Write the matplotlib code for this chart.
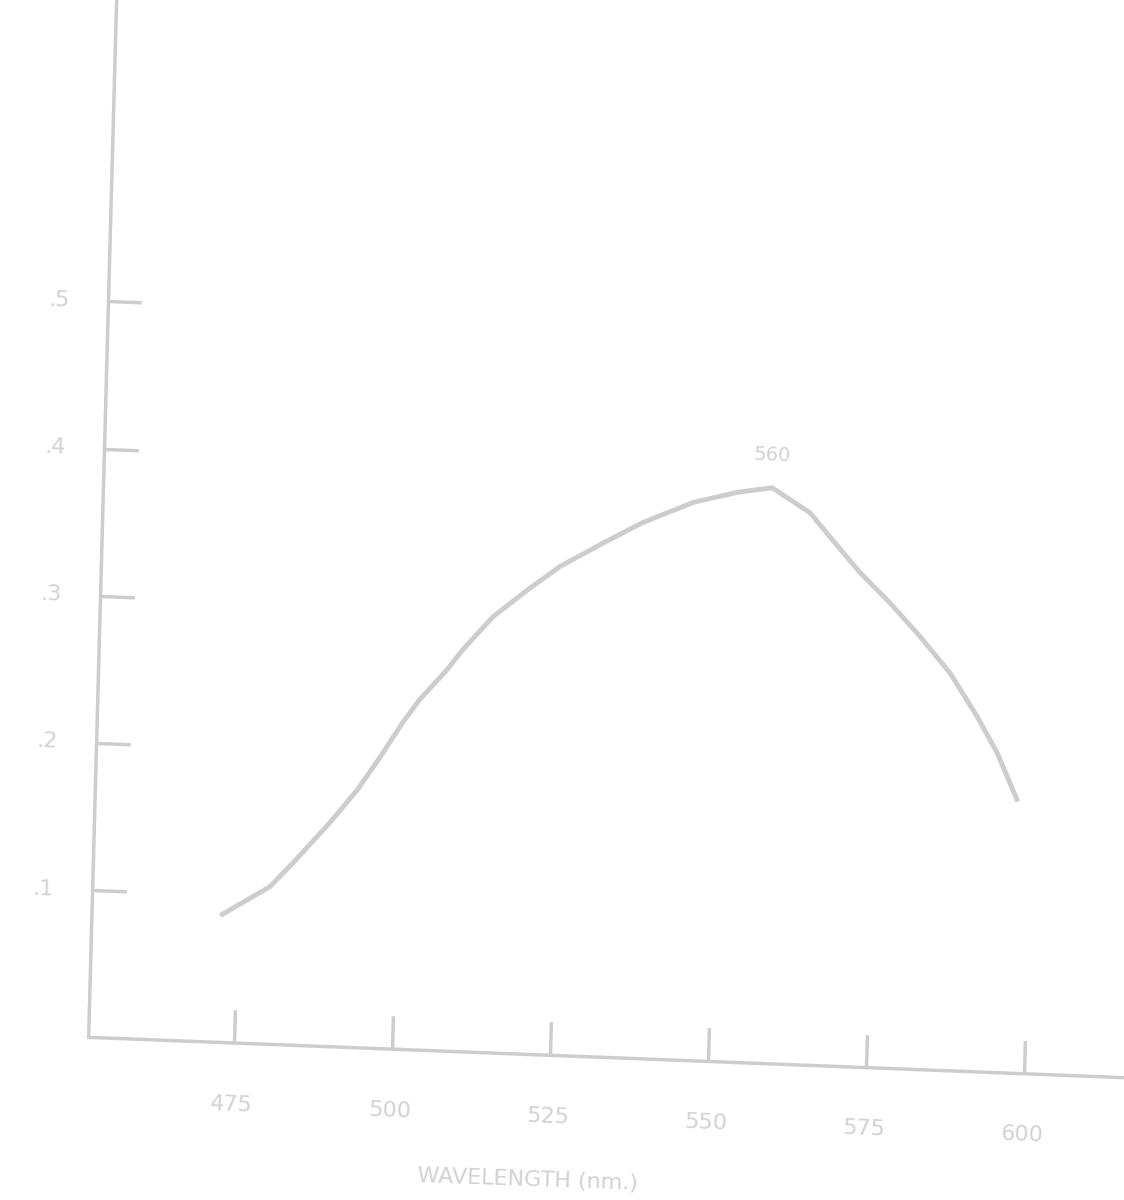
import numpy as np
import matplotlib
matplotlib.use("Agg")
import matplotlib.pyplot as plt
from matplotlib.transforms import Affine2D
from mpl_toolkits.axisartist import floating_axes
from mpl_toolkits.axisartist.grid_finder import FixedLocator, DictFormatter

# values
wavelength = [472.6, 480.0, 483.6, 489.2, 493.4, 496.9, 500.3, 502.9, 507.1,
              509.5, 514.1, 519.4, 524.5, 531.2, 537.4, 545.3, 552.2, 557.7,
              563.8, 567.5, 571.9, 576.8, 581.7, 586.6, 591.1, 594.4, 597.7]
absorbance = [0.087, 0.107, 0.124, 0.152, 0.175, 0.198, 0.222, 0.238, 0.259,
              0.273, 0.296, 0.315, 0.332, 0.349, 0.364, 0.379, 0.387, 0.391,
              0.375, 0.357, 0.336, 0.316, 0.294, 0.270, 0.241, 0.217, 0.186]

x_ticks = [475, 500, 525, 550, 575, 600]
x_tick_labels = ["475", "500", "525", "550", "575", "600"]
y_ticks = [0.1, 0.2, 0.3, 0.4, 0.5]
y_tick_labels = [".1", ".2", ".3", ".4", ".5"]
peak_label = "560"
x_label = "WAVELENGTH (nm.)"

ink = "#cdcdcd"
text_ink = "#d2d2d2"

fig = plt.figure(figsize=(11.24, 12), dpi=100)

# the page was scanned a bit skewed -> (nm, value) to pixel mapping with small rotation
skew = np.array([[6.32, 39.7, 234.0],
                 [-0.246, 1472.0, 157.0],
                 [0.0, 0.0, 1.0]])
tr = Affine2D().translate(-475, 0) + Affine2D(skew)

grid_helper = floating_axes.GridHelperCurveLinear(
    tr, extremes=(452, 650, 0, 0.72),
    grid_locator1=FixedLocator(x_ticks),
    tick_formatter1=DictFormatter(dict(zip(x_ticks, x_tick_labels))),
    grid_locator2=FixedLocator(y_ticks),
    tick_formatter2=DictFormatter(dict(zip(y_ticks, y_tick_labels))))

ax = fig.add_subplot(111, axes_class=floating_axes.FloatingAxes, grid_helper=grid_helper)
ax.set_position([0, 0, 1, 1])
ax.set_xlim(0, 1124)
ax.set_ylim(0, 1200)

ax.axis["top"].set_visible(False)
ax.axis["right"].set_visible(False)
for side in ["left", "bottom"]:
    a = ax.axis[side]
    a.line.set_color(ink)
    a.line.set_linewidth(2.5)
    a.major_ticks.set_color(ink)
    a.major_ticks.set_ticksize(24)
    a.major_ticks.set_markeredgewidth(2.5)
    a.major_ticklabels.set_color(text_ink)
    a.major_ticklabels.set_fontsize(16)
ax.axis["left"].major_ticklabels.set_pad(28)
ax.axis["bottom"].major_ticklabels.set_pad(37)

aux = ax.get_aux_axes(tr)
aux.plot(wavelength, absorbance, color=ink, linewidth=3.5, solid_joinstyle="round")

aux.text(557.5, 0.413, peak_label, ha="center", va="center", color=text_ink,
         fontsize=14, rotation=-2)
aux.text(522, -0.085, x_label, ha="center", va="center", color=text_ink,
         fontsize=16, rotation=-2)

fig.savefig("out.png", dpi=100, facecolor="white")
